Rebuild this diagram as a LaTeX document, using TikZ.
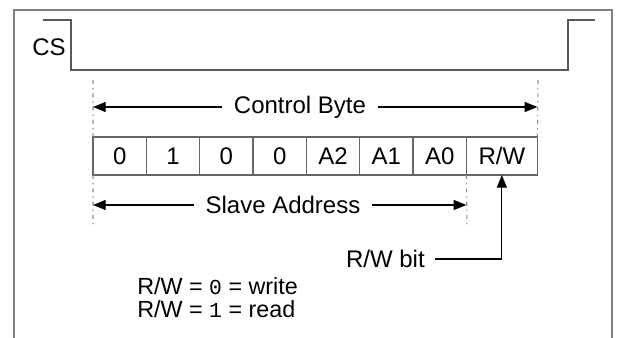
\documentclass[tikz,border=0pt]{standalone}
\usepackage{fontspec}
\setmainfont{Liberation Sans}
\newfontfamily\digitfont{Liberation Mono}
\usetikzlibrary{arrows.meta,positioning}

\begin{document}
\begin{tikzpicture}
          [x=0.75pt,y=-0.75pt,
            every node/.style={font=\fontsize{18}{20}\selectfont,inner sep=0pt},
            bitcell/.style={draw=black!60,line width=1.1pt,minimum width=40pt,minimum height=28.5pt,outer sep=0pt},
            spanlabel/.style={inner xsep=8.5pt,inner ysep=2pt},
            noteline/.style={anchor=base west,font=\fontsize{17.5}{15}\selectfont},
            frameline/.style={draw=black!50,line width=1.5pt},
            wave/.style={draw=black!65,line width=1.4pt},
            guide/.style={draw=black!45,line width=0.8pt,dash pattern=on 3pt off 3pt on 1pt off 3pt},
            spanarrow/.style={line width=0.9pt,-{Triangle[length=9.5pt,width=7.5pt]}}]
          \useasboundingbox (0,0) rectangle (617,338);
          % open frame and chip select line
          \draw[frameline] (14,338) |- (612,10) -- (612,338);
          \draw[wave] (43,20) -| (71,70) -| (568,20) -- (595,20);
          \node (cs) at (49,47) {CS};
          % the control byte
          \node[bitcell] (b7) at (119.7,156) {0};
          \node[bitcell,right=0pt of b7] (b6) {1};
          \node[bitcell,right=0pt of b6] (b5) {0};
          \node[bitcell,right=0pt of b5] (b4) {0};
          \node[bitcell,right=0pt of b4] (b3) {A2};
          \node[bitcell,right=0pt of b3] (b2) {A1};
          \node[bitcell,right=0pt of b2] (b1) {A0};
          \node[bitcell,minimum width=53.25pt,right=0pt of b1] (rw) {R/W};
          % guide lines
          \draw[guide] (93,80) -- (b7.north west);
          \draw[guide] (b7.south west) -- (93,227);
          \draw[guide] (538,80) -- (rw.north east);
          \draw[guide] (b1.south east) -- (467,227);
          % spans
          \node[spanlabel] (cb) at (300,107) {Control Byte};
          \coordinate (cbl) at (b7.west |- cb);
          \coordinate (cbr) at (rw.east |- cb);
          \draw[spanarrow] (cb) -- (cbl);
          \draw[spanarrow] (cb) -- (cbr);
          \node[spanlabel] (sa) at (283,205) {Slave Address};
          \coordinate (sal) at (b7.west |- sa);
          \coordinate (sar) at (b1.east |- sa);
          \draw[spanarrow] (sa) -- (sal);
          \draw[spanarrow] (sa) -- (sar);
          % read/write bit
          \node[anchor=east,inner xsep=7.5pt] (rwbit) at (435,259) {R/W bit};
          \draw[spanarrow] (rwbit.east) -| (rw.south);
          \node[noteline] (rwzero) at (137,294) {R/W = {\digitfont\fontsize{16}{15}\selectfont 0} = write};
          \node[noteline] (rwone) at (137,317.5) {R/W = {\digitfont\fontsize{16}{15}\selectfont 1} = read};
        \end{tikzpicture}
\end{document}
